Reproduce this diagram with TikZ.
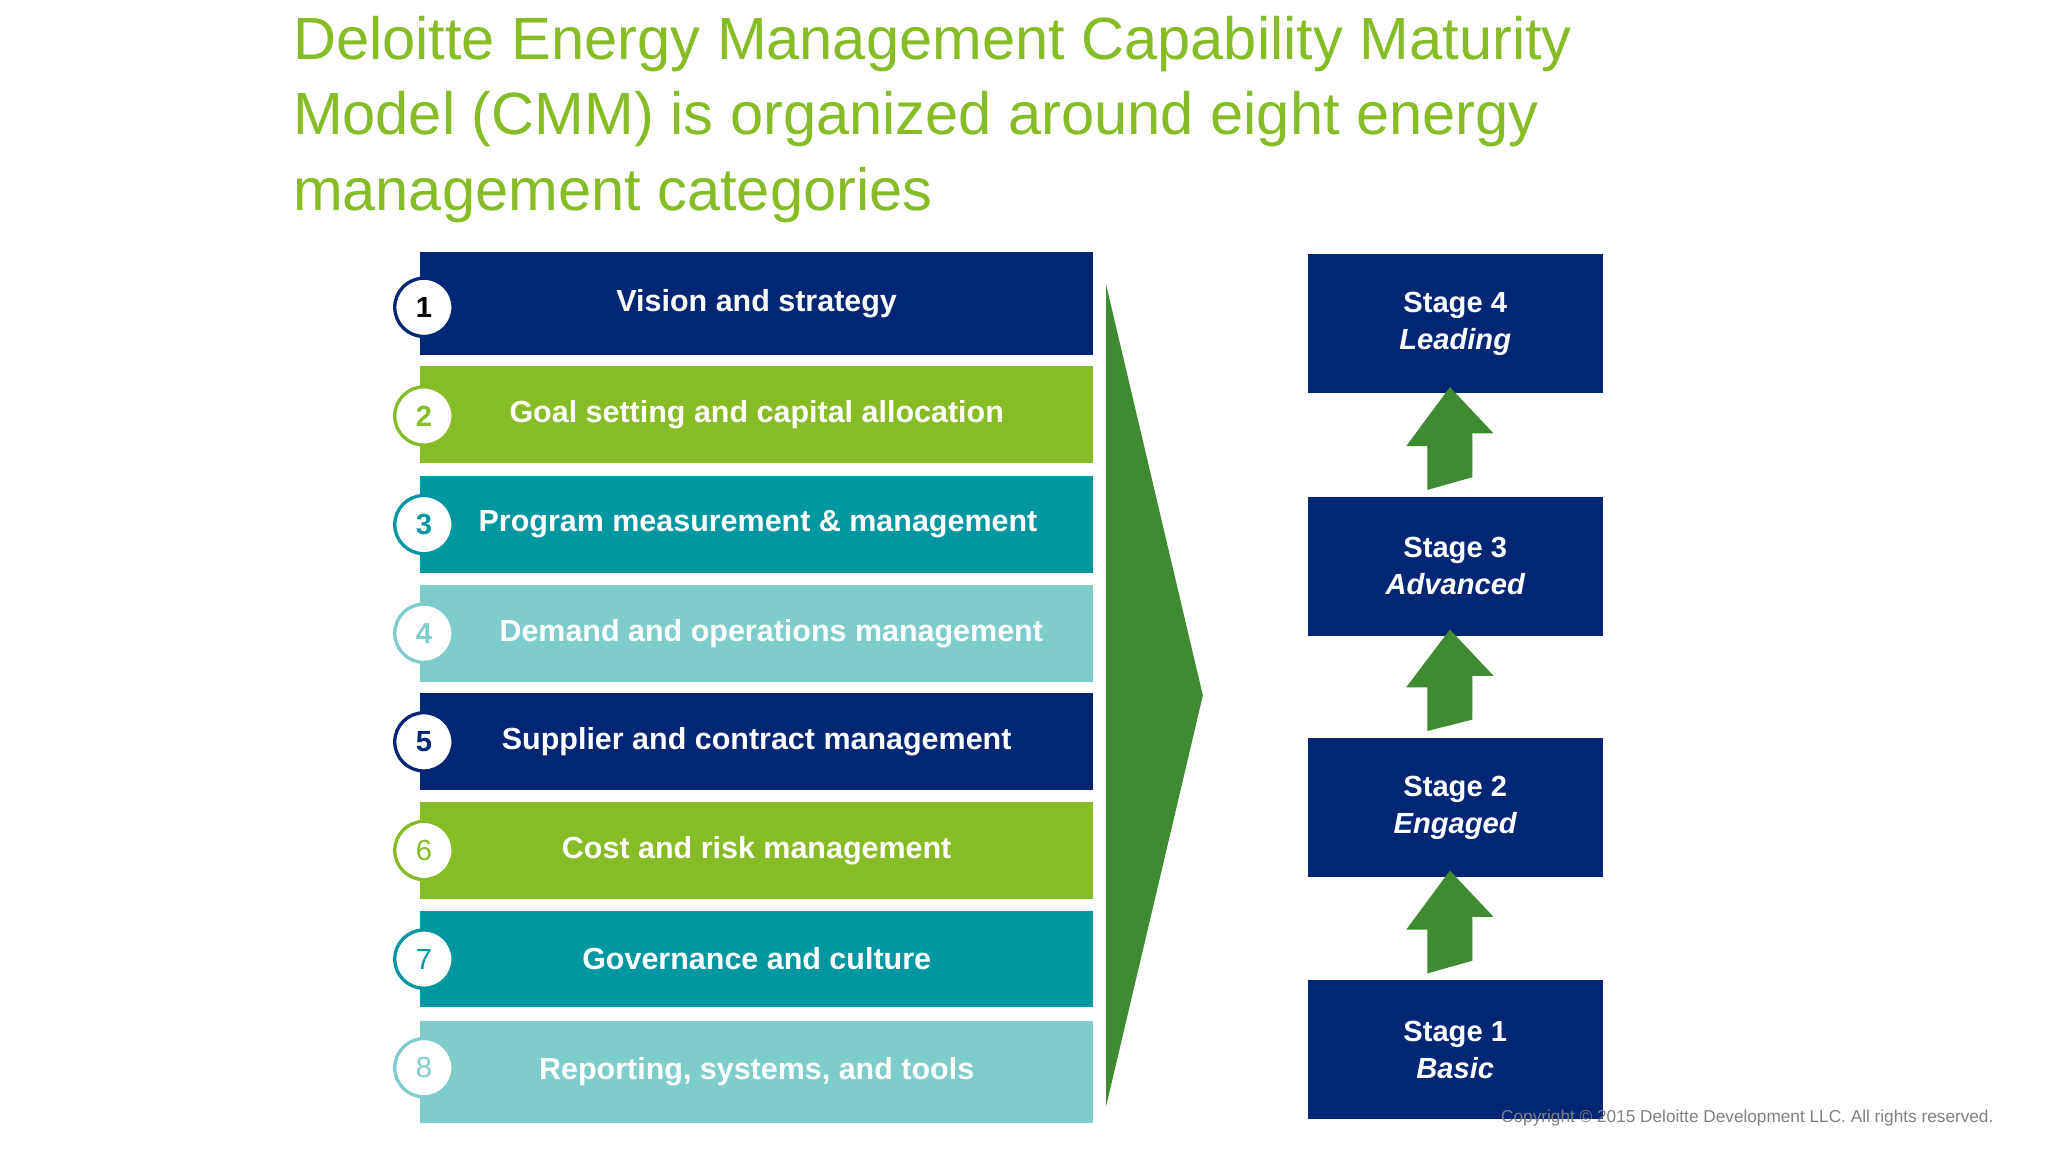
\documentclass[tikz,border=0pt]{standalone}
\usepackage{fontspec}
\setmainfont{Liberation Sans}
\definecolor{navy}{HTML}{012674}
\definecolor{lgreen}{HTML}{86BC25}
\definecolor{teal}{HTML}{0097A0}
\definecolor{lteal}{HTML}{7FCCCC}
\definecolor{dgreen}{HTML}{3E8B31}
\begin{document}
\begin{tikzpicture}[x=1pt,y=-1pt,
  bar/.style={minimum width=508pt,minimum height=73pt,inner sep=0pt,anchor=west,text=white,font=\fontsize{23}{27}\selectfont\bfseries},
  num/.style={circle,fill=white,draw=#1,line width=2.5pt,minimum size=44pt,inner sep=0pt,text=#1,font=\fontsize{22}{26}\selectfont},
  stagebox/.style={fill=navy,minimum width=223pt,minimum height=105pt,inner sep=0pt,text=white,align=center,font=\fontsize{22}{28}\selectfont\bfseries},
  up/.style={fill=dgreen}]
\useasboundingbox (0,0) rectangle (1546,870);
\fill[white] (0,0) rectangle (1546,870);
\node[anchor=north west,text=lgreen,align=left,font=\fontsize{45}{57}\selectfont,inner sep=0pt] (title) at (221,12)
 {Deloitte Energy Management Capability Maturity\\Model (CMM) is organized around eight energy\\management categories};
% bars
\node[bar,fill=navy,minimum height=78pt] (b1) at (317,229) {\hspace*{0pt}\makebox[508pt]{Vision and strategy}};
\node[bar,fill=lgreen] (b2) at (317,313) {\makebox[508pt]{Goal setting and capital allocation}};
\node[bar,fill=teal] (b3) at (317,396) {\makebox[508pt]{\hspace{2pt}Program measurement \& management}};
\node[bar,fill=lteal] (b4) at (317,478) {\makebox[508pt]{\hspace{22pt}Demand and operations management}};
\node[bar,fill=navy] (b5) at (317,560) {\makebox[508pt]{Supplier and contract management}};
\node[bar,fill=lgreen] (b6) at (317,642) {\makebox[508pt]{Cost and risk management}};
\node[bar,fill=teal] (b7) at (317,724) {\makebox[508pt]{Governance and culture}};
\node[bar,fill=lteal,minimum height=77pt] (b8) at (317,809) {\makebox[508pt]{Reporting, systems, and tools}};
\node[num=navy,font=\fontsize{22}{26}\selectfont\bfseries,text=black] (n1) at (320,232) {1};
\node[num=lgreen,font=\fontsize{22}{26}\selectfont\bfseries] (n2) at (320,314) {2};
\node[num=teal,font=\fontsize{22}{26}\selectfont\bfseries] (n3) at (320,396) {3};
\node[num=lteal,font=\fontsize{22}{26}\selectfont\bfseries] (n4) at (320,478) {4};
\node[num=navy,font=\fontsize{22}{26}\selectfont\bfseries] (n5) at (320,560) {5};
\node[num=lgreen] (n6) at (320,642) {6};
\node[num=teal] (n7) at (320,724) {7};
\node[num=lteal] (n8) at (320,806) {8};
% big triangle
\fill[dgreen] (835,215) -- (908,525) -- (835,835) -- cycle;
% stages
\node[stagebox] (s4) at (1098.5,244.5) {Stage 4\\\itshape Leading};
\node[stagebox] (s3) at (1098.5,427.5) {Stage 3\\\itshape Advanced};
\node[stagebox] (s2) at (1098.5,609.5) {Stage 2\\\itshape Engaged};
\node[stagebox] (s1) at (1098.5,792.5) {Stage 1\\\itshape Basic};
\foreach \a/\b in {s1/s2,s2/s3,s3/s4}{
  \path (\a.north) ++(-4,-5) coordinate (\a-bot);
  \fill[dgreen] ([xshift=-17pt]\a-bot) -- ++(0,-33) -- ++(-16,0) -- ([yshift=5pt]\b.south-|\a-bot) -- ++(33,35) -- ++(-16,0) -- ++(0,33) -- cycle;
}
\node[anchor=base east,text=gray,font=\fontsize{13}{15}\selectfont,inner sep=0pt] (copy) at (1505,847) {Copyright © 2015 Deloitte Development LLC. All rights reserved.};
\end{tikzpicture}
\end{document}
